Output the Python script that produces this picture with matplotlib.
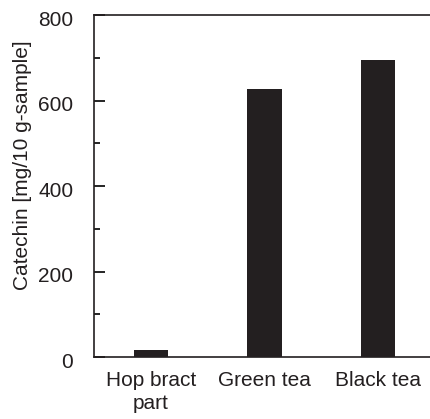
import numpy as np
import matplotlib.pyplot as plt
import matplotlib.transforms as mtransforms
from matplotlib.ticker import MultipleLocator

plt.rcParams['font.family'] = ['Liberation Sans', 'DejaVu Sans']

categories = ['Hop bract\npart', 'Green tea', 'Black tea']
catechin = [16, 626, 694]

W, H = 431, 419
fig = plt.figure(figsize=(W / 100, H / 100), dpi=100)
# axes box in pixels: left 94, right ~435 (cropped), top 15, bottom 357
ax = fig.add_axes([94 / W, (H - 357) / H, (435 - 94) / W, (357 - 15) / H])

x = np.arange(len(categories))
ax.bar(x, catechin, width=0.3, color='#231f20')

ax.set_xlim(-0.5, 2.5)
ax.set_ylim(0, 800)
ax.set_xticks(x)
ax.set_xticklabels(categories, fontsize=15, color='#231f20', linespacing=1.3)
ax.tick_params(axis='x', length=0, pad=10)
ax.yaxis.set_major_locator(MultipleLocator(200))
ax.yaxis.set_minor_locator(MultipleLocator(100))
ax.tick_params(axis='y', which='major', direction='in', length=8, width=1.2,
               labelsize=15, pad=15, labelcolor='#231f20')
ax.tick_params(axis='y', which='minor', direction='in', length=4.5, width=1.2)

# y tick labels sit a little below their ticks in the reference
off = mtransforms.ScaledTranslation(0, -3 / 100, fig.dpi_scale_trans)
for lab in ax.get_yticklabels():
    lab.set_transform(lab.get_transform() + off)

ax.set_ylabel('Catechin [mg/10 g-sample]', fontsize=15, color='#231f20')
ax.yaxis.set_label_coords(-0.182, 0.561)

for s in ['left', 'bottom', 'top']:
    ax.spines[s].set_linewidth(1.2)
    ax.spines[s].set_color('#231f20')
ax.spines['right'].set_visible(False)

fig.savefig('out.png', dpi=100)
